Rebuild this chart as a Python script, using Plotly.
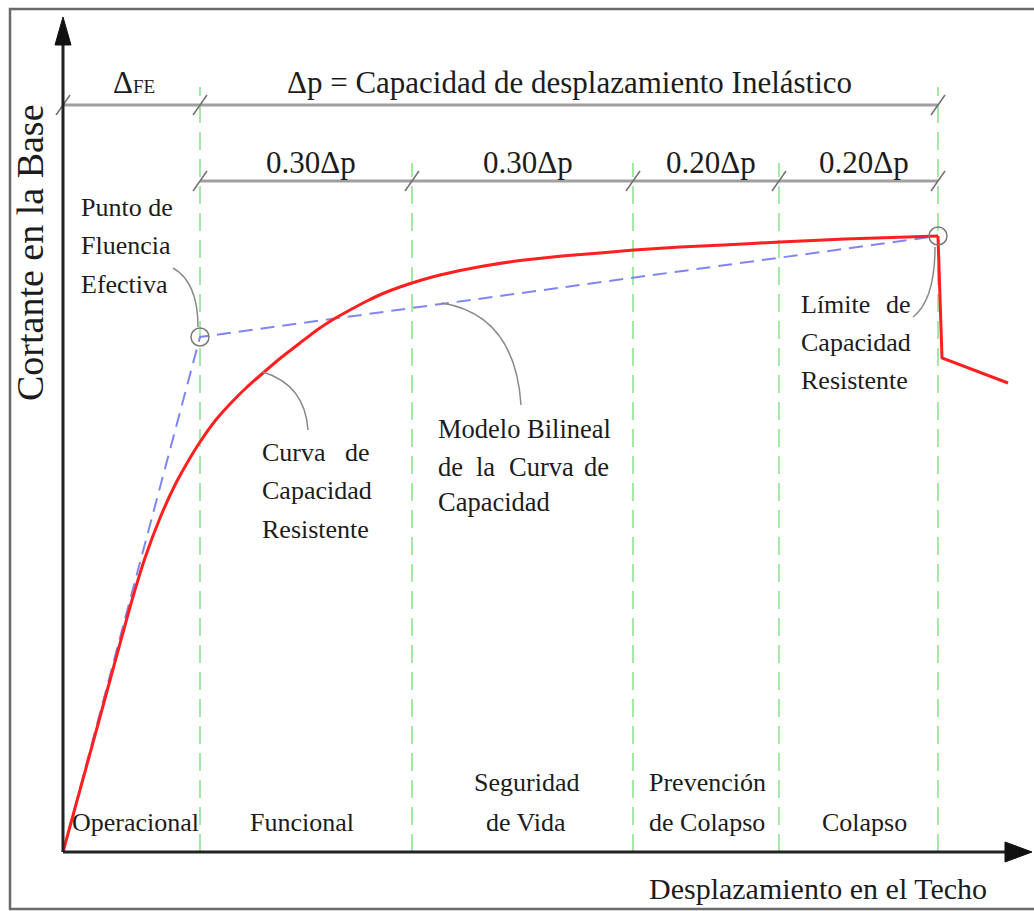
import plotly.graph_objects as go

# units: one unit = one pixel of the original drawing, origin at the axes corner
# capacity curve (red)
curva_x = [0, 37, 67, 82, 97, 112, 127, 137, 152, 167, 183, 200, 217, 237, 254, 270, 287,
           304, 320, 337, 357, 377, 397, 418, 457, 499, 537, 571, 617, 661, 717, 782, 875]
curva_y = [0, 135, 245, 294, 334, 367, 394, 410, 431, 448, 464, 479, 493.5, 509, 522, 532.5, 542,
           551, 558.5, 565, 571.5, 577, 581.5, 585.5, 591.5, 596, 599, 602, 605, 607, 610, 613, 616]
# strength loss after the capacity limit
caida_x = [875, 879, 945]
caida_y = [616, 494, 469]

# bilinear model (blue dashed): origin, effective yield, capacity limit
bilineal_x = [0, 137, 875]
bilineal_y = [0, 515, 616]

# performance level limits on the displacement axis
limites_x = [137, 349, 570, 716, 875]
niveles = ["Operacional", "Funcional", "Seguridad<br>de Vida", "Prevención<br>de Colapso", "Colapso"]
tramos = ["0.30Δp", "0.30Δp", "0.20Δp", "0.20Δp"]

# leader lines (start, control, end)
guias = [
    [(110, 584), (135, 570), (135, 525)],
    [(200, 480), (242, 467), (245, 422)],
    [(379, 549), (452, 537), (458, 447)],
    [(872, 605), (872, 552), (850, 535)],
]

FONT = "Liberation Serif"
TXT = "#1c1c1c"
W, H = 1034, 911
X0, Y0 = 63, 852  # pixel position of the origin

fig = go.Figure()

# green dashed limit lines
for i, lx in enumerate(limites_x):
    top = 765 if i in (0, len(limites_x) - 1) else 689
    fig.add_trace(go.Scatter(x=[lx, lx], y=[0, top], mode="lines",
                             line=dict(color="#86e486", width=1.5, dash="18px,9px"),
                             hoverinfo="skip"))

# dimension lines with slash ticks
def dim_line(xs, y):
    fig.add_trace(go.Scatter(x=[xs[0], xs[-1]], y=[y, y], mode="lines",
                             line=dict(color="#a0a0a0", width=3), hoverinfo="skip"))
    sx, sy = [], []
    for v in xs:
        sx += [v - 7, v + 7, None]
        sy += [y - 10, y + 10, None]
    fig.add_trace(go.Scatter(x=sx, y=sy, mode="lines",
                             line=dict(color="#707070", width=1.5), hoverinfo="skip"))

dim_line([0, limites_x[0], limites_x[-1]], 747)
dim_line(limites_x, 671)

# bilinear model
fig.add_trace(go.Scatter(x=bilineal_x, y=bilineal_y, mode="lines",
                         line=dict(color="#7f86f2", width=2, dash="14px,8px"), hoverinfo="skip"))
# capacity curve
fig.add_trace(go.Scatter(x=curva_x, y=curva_y, mode="lines",
                         line=dict(color="#ff1f1f", width=3, shape="spline", smoothing=0.4),
                         hoverinfo="skip"))
fig.add_trace(go.Scatter(x=caida_x, y=caida_y, mode="lines",
                         line=dict(color="#ff1f1f", width=3), hoverinfo="skip"))

# axes with arrowheads
fig.add_trace(go.Scatter(x=[0, 0, None, 0, 950], y=[0, 810, None, 0, 0], mode="lines",
                         line=dict(color="#222222", width=3), hoverinfo="skip"))
fig.add_trace(go.Scatter(x=[-8, 0, 8, -8], y=[807, 835, 807, 807], mode="lines", fill="toself",
                         fillcolor="#111111", line=dict(color="#111111", width=1), hoverinfo="skip"))
fig.add_trace(go.Scatter(x=[942, 969, 942, 942], y=[10, 0, -10, 10], mode="lines", fill="toself",
                         fillcolor="#111111", line=dict(color="#111111", width=1), hoverinfo="skip"))

shapes = []
# circles at effective yield and capacity limit
for cx, cy in [(bilineal_x[1], bilineal_y[1]), (bilineal_x[2], bilineal_y[2])]:
    shapes.append(dict(type="circle", xref="x", yref="y", x0=cx - 9, x1=cx + 9, y0=cy - 9, y1=cy + 9,
                       line=dict(color="#7a7a7a", width=1.5)))
for (a, c, b) in guias:
    shapes.append(dict(type="path", xref="x", yref="y",
                       path=f"M {a[0]} {a[1]} Q {c[0]} {c[1]} {b[0]} {b[1]}",
                       line=dict(color="#8a8a8a", width=1.5)))
# outer frame
shapes.append(dict(type="rect", xref="paper", yref="paper",
                   x0=10 / W, x1=1.02, y0=1 - 909 / H, y1=1 - 9 / H,
                   line=dict(color="#6a6a6a", width=2.5)))


def txt(x, y, s, size=26, xa="center", ang=0):
    fig.add_annotation(x=x, y=y, text=s, showarrow=False, xanchor=xa, yanchor="middle",
                       textangle=ang, font=dict(family=FONT, size=size, color=TXT))


# top dimension labels
txt(71, 770, "Δ<span style='font-size:19px'>FE</span>", 31)
txt(506, 770, "Δp = Capacidad de desplazamiento Inelástico", 31)
for i, t in enumerate(tramos):
    txt((limites_x[i] + limites_x[i + 1]) / 2 + 5, 690, t, 31)

# performance levels
txt(7, 30, niveles[0], 26, "left")
txt(239, 30, niveles[1], 26)
for i, lbl in enumerate(niveles[2:4]):
    a, b = lbl.split("<br>")
    cx = [463, 644][i]
    txt(cx, 70, a)
    txt(cx, 30, b)
txt(801, 30, niveles[4])

# callouts
txt(16, 645, "Punto de", 26, "left")
txt(16, 607, "Fluencia", 26, "left")
txt(16, 568, "Efectiva", 26, "left")

txt(197, 400, "Curva", 26, "left")
txt(309, 400, "de", 26, "right")
txt(197, 362, "Capacidad", 26, "left")
txt(197, 323, "Resistente", 26, "left")

txt(373, 423, "Modelo Bilineal", 26.5, "left")
txt(373, 385, "de", 26.5, "left")
txt(411, 385, "la", 26.5, "left")
txt(444, 385, "Curva", 26.5, "left")
txt(548, 385, "de", 26.5, "right")
txt(373, 350, "Capacidad", 26.5, "left")

txt(736, 548, "Límite", 26, "left")
txt(850, 548, "de", 26, "right")
txt(736, 510, "Capacidad", 26, "left")
txt(736, 472, "Resistente", 26, "left")

# axis titles
txt(755, -36, "Desplazamiento en el Techo", 30)
txt(-33, 599, "Cortante en la Base", 38, ang=-90)

fig.update_layout(
    width=W, height=H,
    margin=dict(l=0, r=0, t=0, b=0),
    paper_bgcolor="white", plot_bgcolor="white",
    showlegend=False,
    shapes=shapes,
    xaxis=dict(range=[-X0, W - X0], visible=False, fixedrange=True),
    yaxis=dict(range=[Y0 - H, Y0], visible=False, fixedrange=True),
)

# drop the default 8px page margin so the figure sits at the window corner
fig.write_html("out.html", config={"displayModeBar": False},
               post_script="document.body.style.margin='0';")
